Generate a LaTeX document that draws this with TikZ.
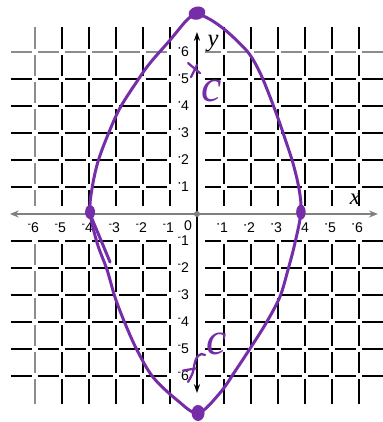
\documentclass[tikz,border=0pt]{standalone}
\usepackage{fontspec}
\setmainfont{Liberation Sans}
\newfontfamily\serifit{Liberation Serif}
\usetikzlibrary{arrows.meta,shapes.geometric}
\definecolor{mypurple}{RGB}{118,45,168}
\newcommand{\nlab}[1]{\llap{\raisebox{0.38em}{\scalebox{0.75}{-}}}#1}
\newcommand{\plab}[1]{\llap{\raisebox{0.42em}{\scalebox{0.45}{\textbullet}}\hspace{0.05em}}#1}
\begin{document}
\begin{tikzpicture}[x=0.54cm,y=0.54cm,
  gridline/.style={line width=1.1pt,black},
  faintline/.style={line width=0.9pt,black!45},
  xaxis/.style={line width=0.9pt,black!50,{Stealth[length=5pt,width=4pt]}-{Stealth[length=5pt,width=4pt]}},
  yaxis/.style={line width=0.9pt,black,{Stealth[length=5pt,width=3.5pt]}-{Stealth[length=5pt,width=3.5pt]}},
  ticklab/.style={font=\fontsize{8}{9}\selectfont,inner sep=0pt},
  curve/.style={line width=1.7pt,mypurple,line cap=round,line join=round},
  pdot/.style={ellipse,fill=mypurple,inner sep=0pt},
  hand/.style={mypurple,font=\serifit\itshape\fontsize{26}{26}\selectfont,inner sep=0pt}]
\useasboundingbox (-7.296,-7.704) rectangle (6.889,7.926);
\fill[white] (-7.296,-7.704) rectangle (6.889,7.926);
% vertical grid lines
\foreach \i in {-5,...,-1,1,2,...,6} {
  \foreach \j in {-6,...,-2,1,2,...,5} {
    \draw[gridline] (\i,\j+0.11) -- (\i,\j+0.89);
  }
  \draw[gridline] (\i,-7.05) -- (\i,-6.11);
  \draw[gridline] (\i,6.11) -- (\i,6.93);
  \draw[gridline] (\i,0.3) -- (\i,0.89);
}
\foreach \j in {-6,...,-2,1,2,...,5} {
  \draw[faintline] (-6,\j+0.11) -- (-6,\j+0.89);
}
\draw[faintline] (-6,-7.05) -- (-6,-6.11);
\draw[faintline] (-6,6.11) -- (-6,6.93);
\draw[faintline] (-6,0.3) -- (-6,0.89);
% horizontal grid lines
\foreach \j in {-6,...,-1,1,2,...,5} {
  \foreach \i in {-6,...,-2,1,2,...,5} {
    \draw[gridline] (\i+0.11,\j) -- (\i+0.89,\j);
  }
  \draw[gridline] (-6.9,\j) -- (-6.11,\j);
  \draw[gridline] (6.11,\j) -- (7,\j);
  \draw[gridline] (0.3,\j) -- (0.89,\j);
}
\foreach \i in {-6,...,-2,1,2,...,5} {
  \draw[faintline] (\i+0.11,6) -- (\i+0.89,6);
}
\draw[faintline] (-6.9,6) -- (-6.11,6);
\draw[faintline] (6.11,6) -- (7,6);
\draw[faintline] (0.3,6) -- (0.89,6);
% axes
\coordinate (xl) at (-6.93,0);
\coordinate (xr) at (6.7,0);
\coordinate (yt) at (0,6.74);
\coordinate (yb) at (0,-6.63);
\draw[xaxis] (xl) -- (xr);
\draw[yaxis] (yb) -- (yt);
\fill[black!50] (0,0) circle (0.11);
% tick labels
\foreach \n in {1,...,6} {
  \node[ticklab] (xn\n) at (-\n,-0.52) {\nlab{\n}};
  \node[ticklab] (xp\n) at (\n,-0.52) {\plab{\n}};
  \node[ticklab] (yn\n) at (-0.44,-\n) {\nlab{\n}};
  \node[ticklab] (yp\n) at (-0.44,\n) {\plab{\n}};
}
\node[ticklab] (zero) at (-0.33,-0.44) {0};
\node[font=\serifit\itshape\fontsize{14}{14}\selectfont,inner sep=0pt] (ylab) at (0.6,6.3) {y};
\node[font=\serifit\itshape\fontsize{13}{13}\selectfont,inner sep=0pt] (xlab) at (5.85,0.55) {x};
% ellipse (hand drawn)
\draw[curve] plot[smooth,tension=0.55] coordinates {(0,7.44) (-0.37,7.19) (-1.0,6.44) (-1.74,5.59) (-2.19,4.96) (-2.85,3.93) (-3.30,2.93) (-3.67,1.93) (-3.89,0.93) (-3.96,0.07) (-3.70,-1.07) (-3.33,-2.07) (-3.04,-3.07) (-2.67,-4.04) (-2.22,-5.04) (-1.63,-6.04) (-0.74,-6.89) (0.04,-7.37) (0.85,-6.63) (1.44,-5.78) (2.0,-4.93) (2.56,-4.04) (3.07,-3.07) (3.37,-2.07) (3.63,-1.07) (3.85,0.07) (3.78,0.93) (3.55,1.9) (3.24,2.85) (3.0,3.55) (2.72,4.3) (2.35,5.2) (1.96,5.9) (1.5,6.4) (1.0,6.85) (0.5,7.2) (0,7.44)};
\draw[curve] (-3.9,-0.15) -- (-3.22,-1.78);
% vertices
\node[pdot,minimum width=0.34cm,minimum height=0.26cm,rotate=15] (vtop) at (0,7.44) {};
\node[pdot,minimum width=0.2cm,minimum height=0.28cm] (vleft) at (-3.96,0.07) {};
\node[pdot,minimum width=0.19cm,minimum height=0.3cm] (vright) at (3.85,0.07) {};
\node[pdot,minimum width=0.26cm,minimum height=0.32cm] (vbot) at (0.04,-7.37) {};
% foci marks
\draw[curve,line width=1.3pt] (-0.33,5.59) -- (0.11,5.22);
\draw[curve,line width=1.3pt] (0,5.52) -- (-0.22,5.07);
\draw[curve,line width=1.3pt] (0.3,-5.22) .. controls (0.1,-5.1) and (-0.05,-5.3) .. (-0.1,-5.6) .. controls (-0.15,-5.9) .. (-0.33,-6.22);
\draw[curve,line width=1.3pt] (-0.52,-5.8) -- (-0.05,-5.72);
\node[hand] (ctop) at (0.55,4.55) {c};
\node[hand] (cbot) at (0.72,-4.8) {c};
\end{tikzpicture}
\end{document}
